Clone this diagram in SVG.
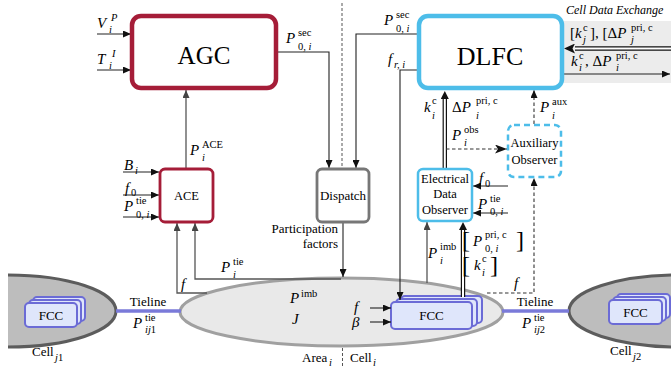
<svg xmlns="http://www.w3.org/2000/svg" width="671" height="368" viewBox="0 0 671 368" font-family="Liberation Serif">
<style>
text, tspan{font-family:"Liberation Serif",serif !important}
.m{font-style:italic;font-size:15px}
.u{font-style:normal}
.s{font-size:10.5px;font-style:normal}
.si{font-size:10.5px;font-style:italic}
.t{font-size:13px;font-style:normal}
.ln{fill:none;stroke:#222;stroke-width:1.1}
.lg{fill:none;stroke:#555;stroke-width:1.3}
.ds{fill:none;stroke:#333;stroke-width:1.1;stroke-dasharray:3.5,2.5}
.sep{fill:none;stroke:#555;stroke-width:1;stroke-dasharray:3,2}
.dbo{fill:none;stroke:#111;stroke-width:4.4}
.dbi{fill:none;stroke:#fff;stroke-width:2}
.tie{stroke:#7a7ad9;stroke-width:3.5}
.fcc{fill:#dfe6fb;stroke:#6b6bd6;stroke-width:2}
.red{fill:#fff;stroke:#a51d38}
.blue{fill:#fff;stroke:#4dbde9}
</style>
<defs>
<marker id="a" viewBox="0 0 8 7" refX="8" refY="3.5" markerWidth="8" markerHeight="7" markerUnits="userSpaceOnUse" orient="auto"><path d="M0,0 L8,3.5 L0,7 z" fill="#111"/></marker>
<marker id="ag" viewBox="0 0 8 7" refX="8" refY="3.5" markerWidth="8" markerHeight="7" markerUnits="userSpaceOnUse" orient="auto"><path d="M0,0 L8,3.5 L0,7 z" fill="#444"/></marker>
<marker id="st" viewBox="0 0 12 9" refX="12" refY="4.5" markerWidth="12" markerHeight="9" markerUnits="userSpaceOnUse" orient="auto"><path d="M0,0 L12,4.5 L0,9 L3,4.5 z" fill="#111"/></marker>
<marker id="bb" viewBox="0 0 11 10" refX="0" refY="5" markerWidth="11" markerHeight="10" markerUnits="userSpaceOnUse" orient="auto"><path d="M0,0 L11,5 L0,10 L2.5,5 z" fill="#111"/></marker>
<marker id="bs" viewBox="0 0 8 8" refX="0" refY="4" markerWidth="8" markerHeight="8" markerUnits="userSpaceOnUse" orient="auto"><path d="M0,0 L8,4 L0,8 z" fill="#111"/></marker>
</defs>

<rect x="562" y="21" width="109" height="62" fill="#ececec"/>
<g id="cell-data-exchange" font-family="Liberation Serif">
<text font-family="Liberation Serif" x="566" y="14" font-size="12" font-style="italic">Cell Data Exchange</text>
</g>

<g id="cell-j1" font-family="Liberation Serif">
<path d="M8,275 A108,36 0 0 1 8,347 Z" fill="#bdbdbd" stroke="none"/>
<path d="M8,275 A108,36 0 0 1 8,347" fill="none" stroke="#5c5c5c" stroke-width="3"/>
<rect class="fcc" x="33" y="297" width="52" height="24" rx="4"/>
<rect class="fcc" x="29" y="300" width="52" height="24" rx="4"/>
<rect class="fcc" x="25" y="303" width="52" height="24" rx="4"/>
<text font-family="Liberation Serif" class="t" x="51" y="320" text-anchor="middle">FCC</text>
<text font-family="Liberation Serif" class="t" x="32" y="356">Cell<tspan class="si" x="55" y="361">j</tspan><tspan class="s">1</tspan></text>
</g>
<g id="cell-j2" font-family="Liberation Serif">
<path d="M680,275 A111,36 0 0 0 680,347 Z" fill="#bdbdbd" stroke="#5c5c5c" stroke-width="3"/>
<rect class="fcc" x="617" y="294" width="53" height="24" rx="4"/>
<rect class="fcc" x="613" y="297" width="53" height="24" rx="4"/>
<rect class="fcc" x="609" y="300" width="53" height="24" rx="4"/>
<text font-family="Liberation Serif" class="t" x="635.5" y="317" text-anchor="middle">FCC</text>
<text font-family="Liberation Serif" class="t" x="610" y="355">Cell<tspan class="si" x="633" y="360">j</tspan><tspan class="s">2</tspan></text>
</g>
<g id="area-i" font-family="Liberation Serif">
<ellipse cx="341.5" cy="312" rx="161.5" ry="34" fill="#e9e9e9" stroke="#a0a0a0" stroke-width="3"/>
<text font-family="Liberation Serif" class="m" x="290" y="303">P<tspan class="s" x="301" y="297">imb</tspan></text>
<text font-family="Liberation Serif" class="m" x="292" y="324">J</text>
<text font-family="Liberation Serif" class="m" x="354" y="312">f</text>
<text font-family="Liberation Serif" class="m" x="352" y="327">&#946;</text>
<text font-family="Liberation Serif" class="t" x="302" y="362">Area<tspan class="si" x="329" y="366">i</tspan></text>
<text font-family="Liberation Serif" class="t" x="350" y="362">Cell<tspan class="si" x="373" y="366">i</tspan></text>
</g>
<g id="fcc-i" font-family="Liberation Serif">
<rect class="fcc" x="401" y="296" width="81" height="27" rx="4"/>
<rect class="fcc" x="396" y="299" width="81" height="27" rx="4"/>
<rect class="fcc" x="391" y="302" width="81" height="27" rx="4"/>
<text font-family="Liberation Serif" class="t" x="431.5" y="320" text-anchor="middle">FCC</text>
</g>

<g id="connectors">
<path class="sep" d="M342,3 V168 M342.5,348 V367"/>
<line class="tie" x1="116" y1="311" x2="181" y2="311"/>
<line class="tie" x1="502" y1="311" x2="569" y2="311"/>
<path class="ln" d="M97,34 H131" marker-end="url(#a)"/>
<path class="ln" d="M97,70 H131" marker-end="url(#a)"/>
<path class="ln" d="M277,52 H329 V168" marker-end="url(#a)"/>
<path class="lg" d="M186,169 V90" marker-end="url(#ag)"/>
<path class="ln" d="M123,172 H159" marker-end="url(#a)"/>
<path class="ln" d="M123,195 H159" marker-end="url(#a)"/>
<path class="ln" d="M123,217 H159" marker-end="url(#a)"/>
<path class="lg" d="M207,293 H177 V223" marker-end="url(#ag)"/>
<path class="lg" d="M341,279 H195 V223" marker-end="url(#ag)"/>
<path class="ln" d="M343,223 V277" marker-end="url(#a)"/>
<path class="ln" d="M418,34 H356 V168" marker-end="url(#a)"/>
<path class="ln" d="M418,70 H400 V300" marker-end="url(#a)"/>
<path class="dbo" d="M671,48.5 H575" marker-end="url(#bb)"/>
<path class="dbi" d="M671,48.5 H575"/>
<path class="ln" d="M563,74 H670" marker-end="url(#a)"/>
<path class="dbo" d="M444.8,168 V99" marker-end="url(#bs)"/>
<path class="dbi" d="M444.8,168 V99"/>
<path class="ds" d="M446,149 H507" marker-end="url(#st)"/>
<path class="ds" d="M534,124 V90" marker-end="url(#a)"/>
<path class="ln" d="M508,186 H473" marker-end="url(#a)"/>
<path class="ln" d="M508,213 H473" marker-end="url(#a)"/>
<path class="lg" d="M427,283 V222" marker-end="url(#ag)"/>
<path class="dbo" d="M463,297 V230" marker-end="url(#bs)"/>
<path class="dbi" d="M463,297 V230"/>
<path class="ds" d="M487,293 H534 V178" marker-end="url(#a)"/>
<path class="ln" d="M370,308 H391" marker-end="url(#a)"/>
<path class="ln" d="M370,322 H391" marker-end="url(#a)"/>
</g>

<g id="agc" font-family="Liberation Serif">
<rect class="red" x="132" y="16" width="144" height="72" rx="9" stroke-width="4.5"/>
<text font-family="Liberation Serif" x="204" y="64" text-anchor="middle" font-size="25">AGC</text>
</g>
<g id="ace" font-family="Liberation Serif">
<rect class="red" x="160" y="169" width="53" height="53" rx="5" stroke-width="2.8"/>
<text font-family="Liberation Serif" x="186.5" y="200" text-anchor="middle" font-size="12.5">ACE</text>
</g>
<g id="dispatch" font-family="Liberation Serif">
<rect x="317" y="169" width="52" height="53" rx="5" fill="#fff" stroke="#777" stroke-width="2.8"/>
<text font-family="Liberation Serif" x="343" y="200" text-anchor="middle" font-size="13">Dispatch</text>
</g>
<g id="dlfc" font-family="Liberation Serif">
<rect class="blue" x="419" y="16" width="143" height="72" rx="9" stroke-width="4.5"/>
<text font-family="Liberation Serif" x="490" y="65" text-anchor="middle" font-size="26">DLFC</text>
</g>
<g id="aux-observer" font-family="Liberation Serif">
<rect class="blue" x="508" y="125" width="53" height="52" rx="6" stroke-width="2.5" stroke-dasharray="6,4"/>
<text font-family="Liberation Serif" x="534.5" y="147" text-anchor="middle" font-size="12.5">Auxiliary</text>
<text font-family="Liberation Serif" x="534.5" y="164" text-anchor="middle" font-size="12.5">Observer</text>
</g>
<g id="edo" font-family="Liberation Serif">
<rect class="blue" x="418" y="169" width="54" height="52" rx="5" stroke-width="2.5"/>
<text font-family="Liberation Serif" x="445" y="183" text-anchor="middle" font-size="12.5">Electrical</text>
<text font-family="Liberation Serif" x="445" y="198" text-anchor="middle" font-size="12.5">Data</text>
<text font-family="Liberation Serif" x="445" y="214" text-anchor="middle" font-size="12.5">Observer</text>
</g>

<g id="labels" font-family="Liberation Serif">
<text font-family="Liberation Serif" class="m" x="97" y="28">V<tspan class="si" x="111" y="21">P</tspan><tspan class="si" x="109" y="33">i</tspan></text>
<text font-family="Liberation Serif" class="m" x="97" y="64">T<tspan class="si" x="112" y="57">I</tspan><tspan class="si" x="109" y="69">i</tspan></text>
<text font-family="Liberation Serif" class="m" x="286" y="43">P<tspan class="s" x="298" y="36">sec</tspan><tspan class="s" x="298" y="50">0, <tspan class="si">i</tspan></tspan></text>
<text font-family="Liberation Serif" class="m" x="384" y="25">P<tspan class="s" x="396" y="18">sec</tspan><tspan class="s" x="396" y="32">0, <tspan class="si">i</tspan></tspan></text>
<text font-family="Liberation Serif" class="m" x="388" y="64">f<tspan class="si" x="394" y="68">r, i</tspan></text>
<text font-family="Liberation Serif" class="m" x="190" y="155">P<tspan class="s" x="202" y="148">ACE</tspan><tspan class="si" x="202" y="161">i</tspan></text>
<text font-family="Liberation Serif" class="m" x="124" y="170">B<tspan class="si" x="135" y="174">i</tspan></text>
<text font-family="Liberation Serif" class="m" x="125" y="193">f<tspan class="s" x="131" y="196">0</tspan></text>
<text font-family="Liberation Serif" class="m" x="124" y="211">P<tspan class="s" x="136" y="204">tie</tspan><tspan class="s" x="136" y="218">0, <tspan class="si">i</tspan></tspan></text>
<text font-family="Liberation Serif" class="m" x="181" y="289">f</text>
<text font-family="Liberation Serif" class="m" x="221" y="272">P<tspan class="s" x="233" y="265">tie</tspan><tspan class="si" x="233" y="278">i</tspan></text>
<text font-family="Liberation Serif" class="t" x="338" y="233" text-anchor="end">Participation</text>
<text font-family="Liberation Serif" class="t" x="338" y="248" text-anchor="end">factors</text>
<text font-family="Liberation Serif" class="t" x="148" y="306" text-anchor="middle">Tieline</text>
<text font-family="Liberation Serif" class="m" x="133" y="328">P<tspan class="s" x="145" y="321">tie</tspan><tspan class="si" x="145" y="333">ij</tspan><tspan class="s">1</tspan></text>
<text font-family="Liberation Serif" class="t" x="535" y="306" text-anchor="middle">Tieline</text>
<text font-family="Liberation Serif" class="m" x="522" y="328">P<tspan class="s" x="534" y="321">tie</tspan><tspan class="si" x="534" y="333">ij</tspan><tspan class="s">2</tspan></text>
<text font-family="Liberation Serif" class="m" x="570" y="38"><tspan class="u">[</tspan>k<tspan class="s" x="583" y="31">c</tspan><tspan class="si" x="583" y="43">j</tspan><tspan class="u" x="590" y="38">], [&#916;</tspan>P<tspan class="s" x="631" y="31">pri, c</tspan><tspan class="si" x="631" y="43">j</tspan></text>
<text font-family="Liberation Serif" class="m" x="571" y="66">k<tspan class="s" x="579" y="59">c</tspan><tspan class="si" x="579" y="71">i</tspan><tspan class="u" x="585" y="66">, &#916;</tspan>P<tspan class="s" x="616" y="59">pri, c</tspan><tspan class="si" x="616" y="71">i</tspan></text>
<text font-family="Liberation Serif" class="m" x="424" y="112">k<tspan class="s" x="432" y="104">c</tspan><tspan class="si" x="432" y="119">i</tspan></text>
<text font-family="Liberation Serif" class="m" x="452" y="112"><tspan class="u">&#916;</tspan>P<tspan class="s" x="476" y="104">pri, c</tspan><tspan class="si" x="476" y="119">i</tspan></text>
<text font-family="Liberation Serif" class="m" x="540" y="112">P<tspan class="s" x="552" y="105">aux</tspan><tspan class="si" x="552" y="119">i</tspan></text>
<text font-family="Liberation Serif" class="m" x="452" y="140">P<tspan class="s" x="464" y="133">obs</tspan><tspan class="si" x="464" y="146">i</tspan></text>
<text font-family="Liberation Serif" class="m" x="479" y="183">f<tspan class="s" x="485" y="187">0</tspan></text>
<text font-family="Liberation Serif" class="m" x="478" y="209">P<tspan class="s" x="490" y="202">tie</tspan><tspan class="s" x="490" y="215">0, <tspan class="si">i</tspan></tspan></text>
<text font-family="Liberation Serif" class="m" x="428" y="258">P<tspan class="s" x="440" y="250">imb</tspan><tspan class="si" x="440" y="264">i</tspan></text>
<text font-family="Liberation Serif" x="462" y="248" font-size="24">[</text>
<text font-family="Liberation Serif" class="m" x="473" y="246">P<tspan class="s" x="485" y="238">pri, c</tspan><tspan class="s" x="485" y="252">0, <tspan class="si">i</tspan></tspan></text>
<text font-family="Liberation Serif" x="516" y="248" font-size="24">]</text>
<text font-family="Liberation Serif" x="462" y="273" font-size="24">[</text>
<text font-family="Liberation Serif" class="m" x="474" y="270">k<tspan class="s" x="482" y="262">c</tspan><tspan class="si" x="482" y="276">i</tspan></text>
<text font-family="Liberation Serif" x="490" y="273" font-size="24">]</text>
<text font-family="Liberation Serif" class="m" x="514" y="288">f</text>
</g>
</svg>
